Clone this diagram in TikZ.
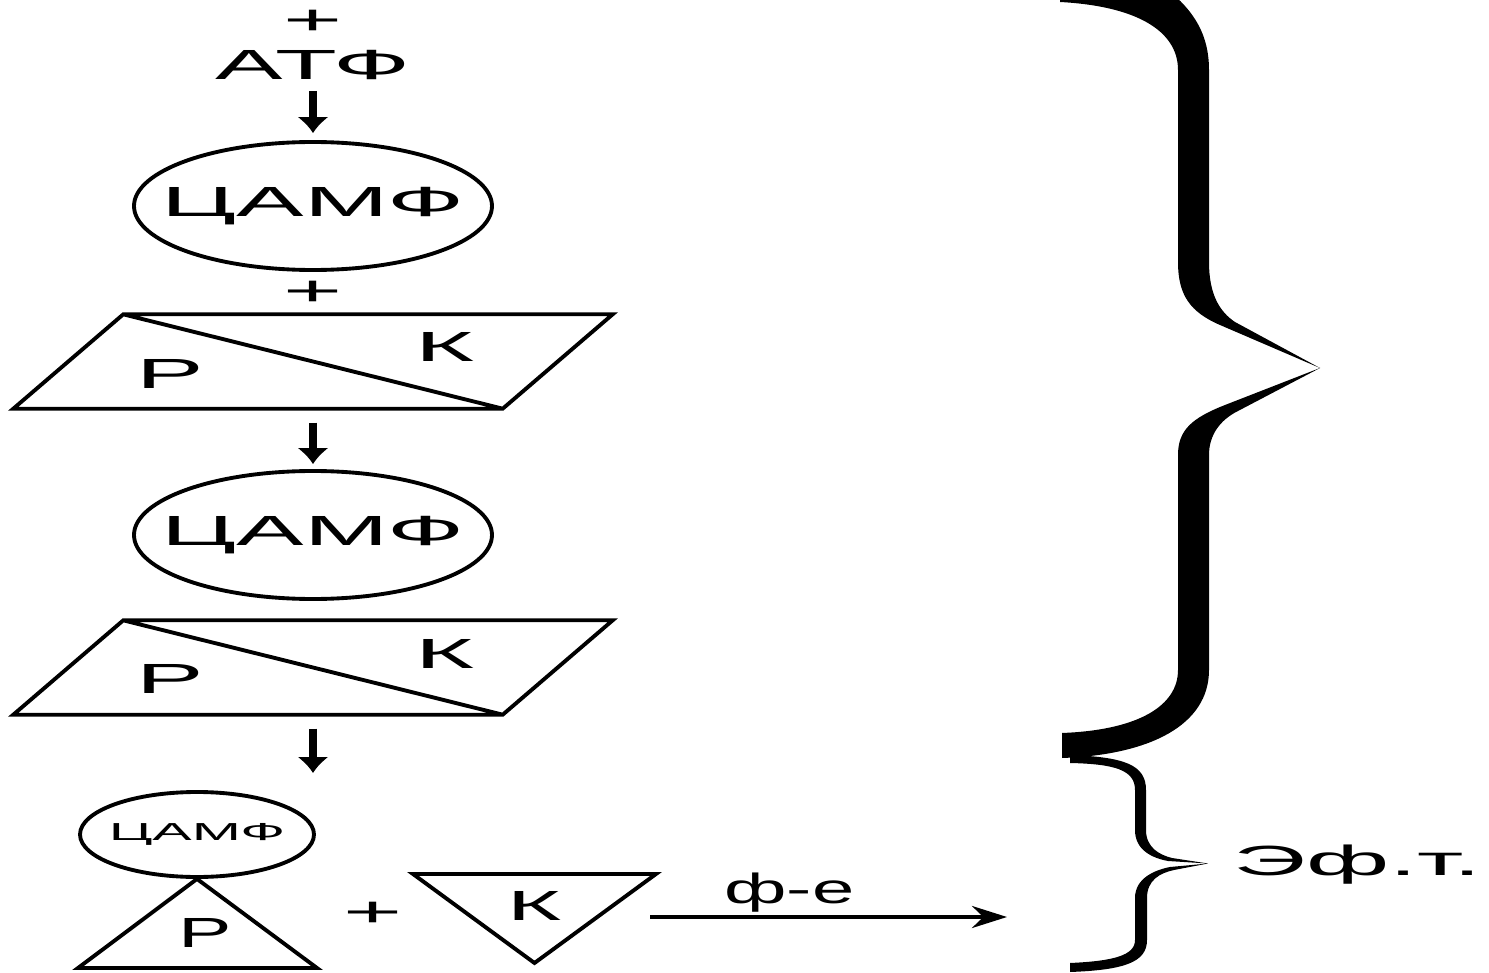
\documentclass[tikz,border=0pt]{standalone}
\usepackage{fontspec}
\setmainfont{Liberation Sans}
\usepackage{graphicx}
\usetikzlibrary{arrows.meta,shapes.geometric}

% the letters of the scheme are drawn wide
\newcommand{\wide}[2][2.4]{\scalebox{#1}[1]{#2}}

\begin{document}
\begin{tikzpicture}[
    lbl/.style={inner sep=0pt,font=\fontsize{12}{14}\selectfont},
    ell/.style={ellipse,draw,line width=1.1pt,inner sep=0pt,minimum width=3.58cm,
      minimum height=1.28cm,font=\fontsize{12}{14}\selectfont},
    pgram/.style={rectangle,inner sep=0pt,minimum width=4.88cm,minimum height=0.93cm},
    shp/.style={line width=1.1pt},
    arr/.style={line width=2pt,-{Latex[length=1.6mm,width=3.2mm]}}]
  \useasboundingbox (0,0) rectangle (14.89,-9.73);

  % column
  \node[lbl] (plus0) at (3.13,-0.22) {\wide{+}};
  \node[lbl,anchor=base] (atf) at (3.13,-0.80) {\wide{АТФ}};
  \node[ell] (camp1) at (3.13,-2.06) {\makebox[0pt]{\wide{ЦАМФ}}};
  \draw[arr,shorten <=1mm,shorten >=0.7mm] (atf.south) -- (camp1.north);
  \node[lbl] (plus1) at (3.13,-2.93) {\wide{+}};

  \node[pgram] (pk1) at (3.13,-3.615) {};
  \draw[shp] ([xshift=-5.5mm]pk1.south west) -- ([xshift=-5.5mm]pk1.south east)
    -- ([xshift=5.5mm]pk1.north east) -- ([xshift=5.5mm]pk1.north west) -- cycle
    ([xshift=5.5mm]pk1.north west) -- ([xshift=-5.5mm]pk1.south east);
  \node[lbl,anchor=base] (r1) at (1.70,-3.88) {\wide{Р}};
  \node[lbl,anchor=base] (k1) at (4.45,-3.62) {\wide{К}};

  \node[ell] (camp2) at (3.13,-5.35) {\makebox[0pt]{\wide{ЦАМФ}}};
  \draw[arr,shorten <=1.4mm,shorten >=0.5mm] (pk1.south) -- (camp2.north);

  \node[pgram] (pk2) at (3.13,-6.675) {};
  \draw[shp] ([xshift=-5.5mm]pk2.south west) -- ([xshift=-5.5mm]pk2.south east)
    -- ([xshift=5.5mm]pk2.north east) -- ([xshift=5.5mm]pk2.north west) -- cycle
    ([xshift=5.5mm]pk2.north west) -- ([xshift=-5.5mm]pk2.south east);
  \node[lbl,anchor=base] (r2) at (1.70,-6.93) {\wide{Р}};
  \node[lbl,anchor=base] (k2) at (4.45,-6.68) {\wide{К}};

  \coordinate (down3) at (3.13,-7.73);
  \draw[arr,shorten <=1.4mm] (pk2.south) -- (down3);

  % bottom row
  \node[ell,minimum width=2.34cm,minimum height=0.85cm,font=\fontsize{7}{8}\selectfont]
    (camp3) at (1.97,-8.345) {\makebox[0pt]{\wide[2.4]{ЦАМФ}}};
  \draw[shp] (camp3.south) -- (0.78,-9.68) -- (3.17,-9.68) -- cycle;
  \node[lbl,anchor=base] (r3) at (2.05,-9.47) {\wide[1.9]{Р}};
  \node[lbl] (plus2) at (3.73,-9.14) {\wide{+}};
  \draw[shp] (4.13,-8.74) -- (6.56,-8.74) -- (5.345,-9.63) -- cycle;
  \node[lbl,anchor=base] (k3) at (5.35,-9.20) {\wide[2.2]{К}};
  \coordinate (fe0) at (6.50,-9.17);
  \coordinate (fe1) at (10.07,-9.17);
  \draw[line width=1.2pt,-{Stealth[length=3.5mm,width=2.2mm]}] (fe0) --
    node[lbl,pos=0.39,above=0.3mm] (fe) {\wide[1.8]{ф-е}} (fe1);

  % braces
  \fill (13.20,-3.68) -- (12.35,-3.22) .. controls (12.20,-3.12) and (12.09,-2.95) .. (12.09,-2.62)
    -- (12.09,-0.70) .. controls (12.09,-0.30) and (11.90,-0.05) .. (11.55,0.20)
    -- (10.60,0.20) -- (10.60,-0.02) .. controls (11.35,-0.06) and (11.78,-0.30) .. (11.78,-0.70)
    -- (11.78,-2.62) .. controls (11.78,-2.95) and (11.90,-3.12) .. (12.20,-3.25) -- cycle;
  \fill (13.20,-3.68) -- (12.25,-4.05) .. controls (11.92,-4.18) and (11.78,-4.30) .. (11.78,-4.55)
    -- (11.78,-6.70) .. controls (11.78,-7.05) and (11.40,-7.30) .. (10.62,-7.33)
    -- (10.62,-7.58) .. controls (11.50,-7.55) and (12.09,-7.25) .. (12.09,-6.70)
    -- (12.09,-4.55) .. controls (12.09,-4.35) and (12.20,-4.20) .. (12.38,-4.11) -- cycle;
  \fill (10.70,-7.55) .. controls (11.25,-7.57) and (11.46,-7.65) .. (11.46,-7.90)
    -- (11.46,-8.30) .. controls (11.46,-8.48) and (11.60,-8.55) .. (11.72,-8.58) -- (12.08,-8.635)
    -- (11.74,-8.70) .. controls (11.60,-8.73) and (11.47,-8.80) .. (11.47,-8.98)
    -- (11.47,-9.40) .. controls (11.47,-9.62) and (11.25,-9.70) .. (10.70,-9.72)
    -- (10.70,-9.63) .. controls (11.15,-9.61) and (11.35,-9.55) .. (11.35,-9.40)
    -- (11.35,-8.98) .. controls (11.35,-8.78) and (11.55,-8.70) .. (11.70,-8.67) -- (12.08,-8.635)
    -- (11.68,-8.61) .. controls (11.52,-8.58) and (11.35,-8.50) .. (11.35,-8.30)
    -- (11.35,-7.90) .. controls (11.35,-7.70) and (11.15,-7.64) .. (10.70,-7.63) -- cycle;
  \node[lbl,anchor=base west] (eft) at (12.33,-8.75) {\wide{Эф.т.}};
\end{tikzpicture}
\end{document}
